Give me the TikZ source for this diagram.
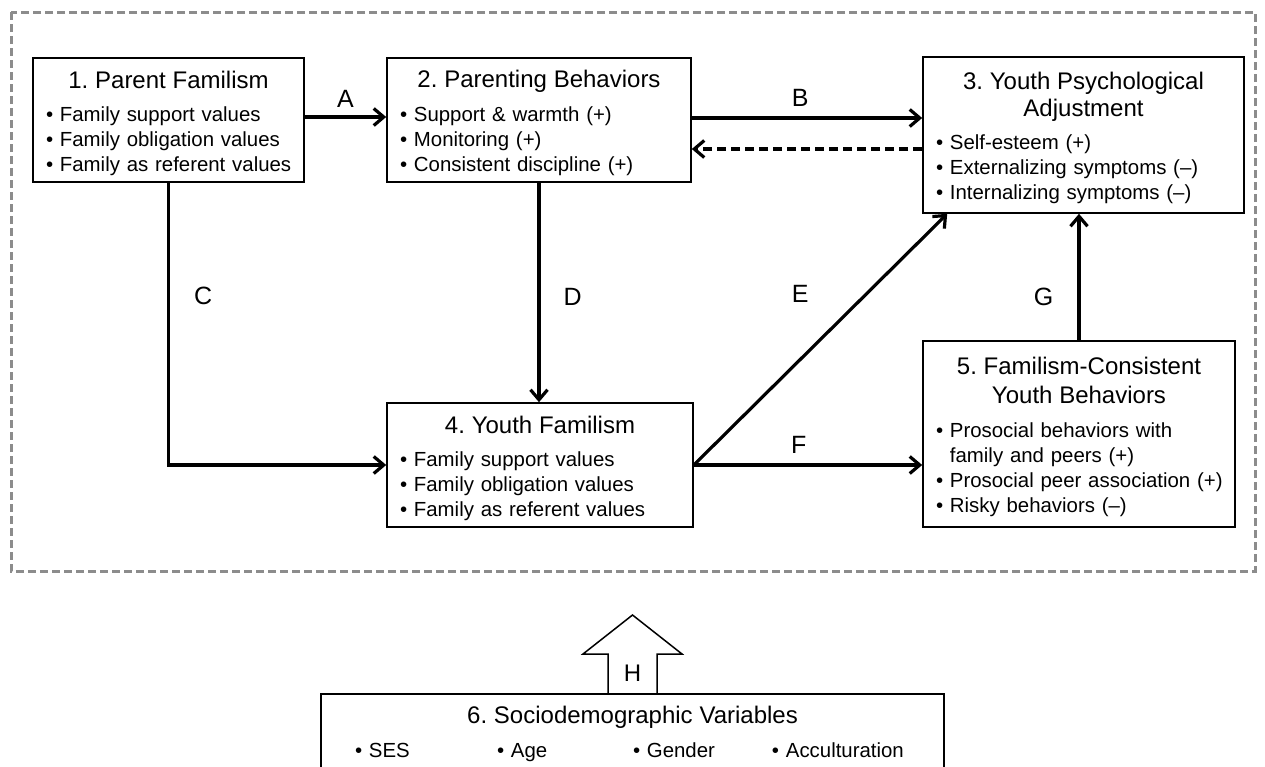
\documentclass[tikz,border=0pt]{standalone}
\usepackage{fontspec}
\setmainfont{Liberation Sans}
\usetikzlibrary{arrows.meta}
\setlength{\parindent}{0pt}
\frenchspacing
\definecolor{framegray}{HTML}{8C8C8C}
\newcommand{\titlesize}{\fontsize{24}{27}\selectfont}
\newcommand{\bodysize}{\fontsize{20.4}{25}\selectfont}
\newcommand{\paneltitle}[2][8pt]{{\centering\titlesize\rule{0pt}{23.5pt}#2\par}\vspace{#1}}
\newcommand{\panelitem}[1]{\mbox{\textbullet~#1}}

\tikzset{
	panel/.style={draw, line width=1.6pt, inner xsep=13pt, inner ysep=0pt, align=left, font=\bodysize},
	path arrow/.style={line width=3.2pt, -{Straight Barb[length=10pt,width=17pt]}},
	path label/.style={font=\fontsize{25}{25}\selectfont, inner sep=0pt},
	frame/.style={draw=framegray, line width=3pt, dash pattern=on 8pt off 4pt},
}

\begin{document}
\begin{tikzpicture}[x=1pt,y=-1pt]
	\useasboundingbox (0,0) rectangle (1265,766);
	\clip (0,0) rectangle (1265,766);
	% dashed frame round the model
	\draw[frame] (11,12) rectangle (1255,571);
	% the six panels
	\node[panel, text width=245pt, minimum height=124pt] (pf) at (168.5,120) {\paneltitle{1. Parent Familism}\panelitem{Family support values}\\\panelitem{Family obligation values}\\\panelitem{Family as referent values}};
	\node[panel, text width=278pt, minimum height=124pt] (pb) at (539,120) {\paneltitle[9pt]{2. Parenting Behaviors}\panelitem{Support \& warmth (+)}\\\panelitem{Monitoring (+)}\\\panelitem{Consistent discipline (+)}};
	\node[panel, text width=295pt, minimum height=156pt] (ypa) at (1083.5,135) {\paneltitle{3. Youth Psychological\\Adjustment}\panelitem{Self-esteem (+)}\\\panelitem{Externalizing symptoms (–)}\\\panelitem{Internalizing symptoms (–)}};
	\node[panel, text width=280pt, minimum height=124pt] (yf) at (540,465) {\paneltitle{4. Youth Familism}\panelitem{Family support values}\\\panelitem{Family obligation values}\\\panelitem{Family as referent values}};
	\node[panel, text width=286pt, minimum height=186pt] (fcyb) at (1079,434) {\paneltitle[9pt]{5. Familism-Consistent\\[2pt]Youth Behaviors}\panelitem{Prosocial behaviors with}\\\mbox{\phantom{\textbullet~}family and peers (+)}\\\panelitem{Prosocial peer association (+)}\\\panelitem{Risky behaviors (–)}};
	\node[panel, text width=623pt, inner xsep=0pt, inner ysep=12pt, anchor=north] (sdv) at (632.5,693) {{\centering\titlesize 6. Sociodemographic Variables\par}\vspace{9pt}\hspace*{34pt}\makebox[142pt][l]{\textbullet~SES}\makebox[136pt][l]{\textbullet~Age}\makebox[139pt][l]{\textbullet~Gender}\textbullet~Acculturation};
	% paths
	\draw[path arrow] ([yshift=3pt]pf.east) -- ([yshift=3pt]pb.west) node[midway, above=8pt, path label] {A};
	\draw[path arrow] ([yshift=2pt]pb.east) -- ([yshift=2pt]pb.east -| ypa.west) node[pos=0.47, above=10pt, path label] {B};
	\draw[path arrow, dash pattern=on 9pt off 5pt] ([yshift=-29pt]pb.east -| ypa.west) -- ([yshift=-29pt]pb.east);
	\draw[path arrow] (pf.south) |- (yf.west) node[pos=0.2, right=24pt, path label] {C};
	\draw[path arrow] (pb.south) -- (pb.south |- yf.north) node[pos=0.52, right=23pt, path label] {D};
	\draw[path arrow] (yf.east) -- ([xshift=25pt]ypa.south west) node[pos=0.55, xshift=-33pt, yshift=33pt, path label] {E};
	\draw[path arrow] (yf.east) -- (yf.east -| fcyb.west) node[pos=0.46, above=10pt, path label] {F};
	\draw[path arrow] (fcyb.north) -- (fcyb.north |- ypa.south) node[pos=0.34, left=24pt, path label] {G};
	% hollow arrow H
	\draw[line width=1.5pt] (608,693) -- (608,654) -- (583,654) -- (632.5,615) -- (682,654) -- (657,654) -- (657,693);
	\node[font=\titlesize, inner sep=0pt] (hlabel) at (632.5,673) {H};
\end{tikzpicture}
\end{document}
